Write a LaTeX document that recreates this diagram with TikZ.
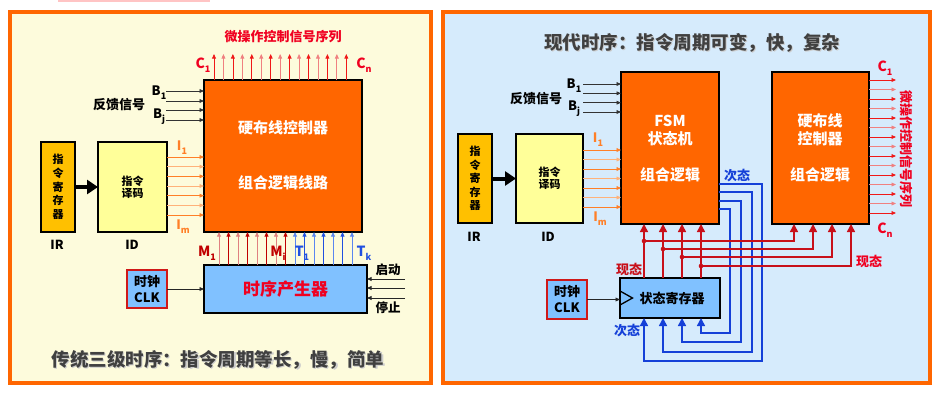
\documentclass[tikz,border=0pt]{standalone}
\usepackage{fontspec}
\setmainfont{Noto Sans CJK SC}
\usetikzlibrary{arrows.meta,calc}
\definecolor{panelO}{HTML}{FF6600}
\definecolor{bgL}{HTML}{FDFBDC}
\definecolor{bgR}{HTML}{D6EBFC}
\definecolor{boxO}{HTML}{FF6600}
\definecolor{irY}{HTML}{FFC000}
\definecolor{idY}{HTML}{FFFF99}
\definecolor{ltB}{HTML}{80C1FF}
\definecolor{txtR}{HTML}{F00020}
\definecolor{cRed}{HTML}{F01818}
\definecolor{cPink}{HTML}{F08080}
\definecolor{mRed}{HTML}{C00000}
\definecolor{mPink}{HTML}{E08080}
\definecolor{tBlue}{HTML}{2050E0}
\definecolor{tBlueL}{HTML}{5A86F0}
\definecolor{iOr}{HTML}{FF7F27}
\definecolor{iOrL}{HTML}{FFB27A}
\definecolor{dRed}{HTML}{C8101A}
\definecolor{dBlue}{HTML}{1540D8}
\definecolor{gTxt}{HTML}{404040}
\definecolor{pinkBar}{HTML}{FFC4C4}
\definecolor{clkRed}{HTML}{D01818}
\newcommand{\lsub}[1]{\raisebox{-0.55ex}{\fontsize{9}{9}\selectfont #1}}
\newcommand{\fz}[1]{\fontsize{#1}{#1}\selectfont}
\begin{document}
\begin{tikzpicture}[x=1pt,y=-1pt,
  box/.style={draw=black,line width=1.8pt,anchor=north west,inner sep=0pt,outer sep=0pt,align=center},
  lbl/.style={font=\bfseries\fz{13},inner sep=0pt},
  sarrow/.style={line width=0.8pt,-{Triangle[length=4.5pt,width=3.8pt]}},
  barrow/.style={line width=1.5pt,-{Triangle[length=8pt,width=8pt]}},
  thick arrow/.style={line width=4pt,-{Triangle[length=11pt,width=14pt]}},
]
\useasboundingbox (0,0) rectangle (943,402);
\fill[pinkBar] (58,0) rectangle (210,1.5);

% ================= LEFT PANEL =================
\draw[panelO,line width=4pt,fill=bgL] (9.5,12) rectangle (430.5,383);
\node[lbl,text=txtR] (ttlL) at (283,37) {微操作控制信号序列};
\node[box,fill=boxO,minimum width=158pt,minimum height=152pt] (mainL) at (204,80) {};
\node[font=\bfseries\fz{15},text=white] (mainLa) at (283,128) {硬布线控制器};
\node[font=\bfseries\fz{15},text=white] (mainLb) at (283,183) {组合逻辑线路};
\foreach \i in {0,...,14}{
  \ifodd\i\def\cc{cPink}\else\def\cc{cRed}\fi
  \draw[sarrow,color=\cc] ($(mainL.north west)+({10+\i*9.45},0)$) -- ++(0,-26);
}
\node[lbl,font=\bfseries\fz{14},text=txtR] (c1L) at (203,65) {C\lsub{1}};
\node[lbl,font=\bfseries\fz{14},text=txtR] (cnL) at (364,65) {C\lsub{n}};

% feedback
\foreach \y [count=\k] in {91,101,110,120}{
  \coordinate (bL\k) at (166,\y);
  \draw[sarrow,color=black!80] (bL\k) -- (mainL.west |- bL\k);
}
\node[lbl] (b1L) at (159,93) {B\lsub{1}};
\node[lbl] (bjL) at (159,117) {B\lsub{j}};
\node[lbl] (fbL) at (119,105) {反馈信号};

% IR / ID
\node[box,fill=irY,minimum width=34pt,minimum height=90pt,font=\bfseries\fontsize{11}{13.7}\selectfont] (irL) at (41,142) {指\\令\\寄\\存\\器};
\node[box,fill=idY,minimum width=69pt,minimum height=90pt,font=\bfseries\fontsize{11}{12.5}\selectfont] (idL) at (98,142) {指令\\译码};
\draw[thick arrow] (irL.east) -- (idL.west);
\node[lbl,font=\bfseries\fz{12.5}] (irLl) at (57,245) {IR};
\node[lbl,font=\bfseries\fz{12.5}] (idLl) at (132,245) {ID};
\foreach \i in {0,...,6}{
  \ifodd\i\def\cc{iOrL}\else\def\cc{iOr}\fi
  \coordinate (iL\i) at ($(idL.north east)+(0,{15+\i*9.67})$);
  \draw[sarrow,color=\cc] (iL\i) -- (mainL.west |- iL\i);
}
\node[lbl,text=iOr] (i1L) at (182,148) {I\lsub{1}};
\node[lbl,text=iOr] (imL) at (183,227) {I\lsub{m}};

% timing generator
\node[box,fill=ltB,minimum width=163pt,minimum height=48pt,text=txtR,font=\bfseries\fz{17}] (tgL) at (204,265) {时序产生器};
\foreach \i in {0,...,14}{
  \ifnum\i<8
    \ifodd\i\def\cc{mRed}\else\def\cc{mPink}\fi
  \else
    \ifodd\i\def\cc{tBlue}\else\def\cc{tBlueL}\fi
  \fi
  \draw[sarrow,color=\cc] ($(tgL.north west)+({15+\i*9.5},0)$) -- ($(mainL.south west)+({15+\i*9.5},0)$);
}
\node[lbl,font=\bfseries\fz{14},text=mRed] (m1L) at (207,253) {M\lsub{1}};
\node[lbl,font=\bfseries\fz{14},text=mRed] (miL) at (278,253) {M\lsub{i}};
\node[lbl,font=\bfseries\fz{14},text=tBlue] (t1L) at (302,253) {T\lsub{1}};
\node[lbl,font=\bfseries\fz{14},text=tBlue] (tkL) at (364,253) {T\lsub{k}};

\node[box,draw=clkRed,line width=1.2pt,fill=ltB,minimum width=40pt,minimum height=38pt,font=\bfseries\fontsize{13}{16}\selectfont] (clkL) at (127,270) {时钟\\CLK};
\draw[sarrow,color=black!85] (clkL.east) -- (clkL.east -| tgL.west);
\foreach \y [count=\k] in {279,288,298}{
  \coordinate (ssL\k) at (405,\y);
  \draw[sarrow,color=black!85] (ssL\k) -- (tgL.east |- ssL\k);
}
\node[lbl,font=\bfseries\fz{12.5}] (qdL) at (388,270) {启动};
\node[lbl,font=\bfseries\fz{12.5}] (tzL) at (388,308) {停止};

\node[lbl,font=\bfseries\fz{18.5},text=black!20] (btmLs) at (219,361) {传统三级时序：指令周期等长，慢，简单};
\node[lbl,font=\bfseries\fz{18.5},text=gTxt] (btmL) at (218,360) {传统三级时序：指令周期等长，慢，简单};

% ================= RIGHT PANEL =================
\draw[panelO,line width=4pt,fill=bgR] (443,12) rectangle (930,383);
\node[lbl,font=\bfseries\fz{18.5},text=black!20] (ttlRs) at (693,44) {现代时序：指令周期可变，快，复杂};
\node[lbl,font=\bfseries\fz{18.5},text=gTxt] (ttlR) at (692,43) {现代时序：指令周期可变，快，复杂};

\node[box,fill=boxO,minimum width=98pt,minimum height=152pt] (fsmR) at (621,72) {};
\node[font=\bfseries\fz{15},text=white] (fsmRa) at (670,121) {FSM};
\node[font=\bfseries\fz{15},text=white] (fsmRb) at (670,139) {状态机};
\node[font=\bfseries\fz{15},text=white] (fsmRc) at (670,175) {组合逻辑};
\node[box,fill=boxO,minimum width=97pt,minimum height=152pt] (hwR) at (772,72) {};
\node[font=\bfseries\fz{15},text=white] (hwRa) at (820,121) {硬布线};
\node[font=\bfseries\fz{15},text=white] (hwRb) at (820,139) {控制器};
\node[font=\bfseries\fz{15},text=white] (hwRc) at (820,175) {组合逻辑};

\foreach \y [count=\k] in {84,93.3,102.7,112}{
  \coordinate (bR\k) at (583,\y);
  \draw[sarrow,color=black!80] (bR\k) -- (fsmR.west |- bR\k);
}
\node[lbl] (b1R) at (574,86) {B\lsub{1}};
\node[lbl] (bjR) at (574,109) {B\lsub{j}};
\node[lbl] (fbR) at (536,99) {反馈信号};

\node[box,fill=irY,minimum width=34pt,minimum height=89pt,font=\bfseries\fontsize{11}{13.5}\selectfont] (irR) at (458,134) {指\\令\\寄\\存\\器};
\node[box,fill=idY,minimum width=67pt,minimum height=89pt,font=\bfseries\fontsize{11}{12.5}\selectfont] (idR) at (516,134) {指令\\译码};
\draw[thick arrow] (irR.east) -- (idR.west);
\node[lbl,font=\bfseries\fz{12.5}] (irRl) at (474,237) {IR};
\node[lbl,font=\bfseries\fz{12.5}] (idRl) at (548,237) {ID};
\foreach \i in {0,...,6}{
  \ifodd\i\def\cc{iOrL}\else\def\cc{iOr}\fi
  \coordinate (iR\i) at ($(idR.north east)+(0,{16+\i*9.5})$);
  \draw[sarrow,color=\cc] (iR\i) -- (fsmR.west |- iR\i);
}
\node[lbl,text=iOr] (i1R) at (598,140) {I\lsub{1}};
\node[lbl,text=iOr] (imR) at (600,219) {I\lsub{m}};

\foreach \i in {0,...,14}{
  \ifodd\i\def\cc{cPink}\else\def\cc{cRed}\fi
  \draw[sarrow,color=\cc] ($(hwR.north east)+(0,{8+\i*9.5})$) -- ++(27,0);
}
\node[lbl,font=\bfseries\fz{14},text=txtR] (c1R) at (885,68) {C\lsub{1}};
\node[lbl,font=\bfseries\fz{14},text=txtR] (cnR) at (885,230) {C\lsub{n}};
\node[lbl,rotate=-90,text=txtR] (vtR) at (906,149) {微操作控制信号序列};

% state register
\node[box,fill=ltB,minimum width=100pt,minimum height=40pt,font=\bfseries\fz{13}] (srR) at (620,278) {\hspace*{4pt}状态寄存器};
\draw[line width=1.3pt] ($(srR.west)+(0,-7)$) -- ++(12.5,7) -- ++(-12.5,7);
\node[box,draw=clkRed,line width=1.2pt,fill=ltB,minimum width=40pt,minimum height=39pt,font=\bfseries\fontsize{13}{16}\selectfont] (clkR) at (547,280) {时钟\\CLK};
\draw[sarrow,color=black!85] (clkR.east) -- (clkR.east -| srR.west);

% next-state (blue)
\foreach \dy/\bx/\by/\dx [count=\k] in {112/762/361/24, 120/752/352/43, 129/741/342/62, 137/730/333/81}{
  \coordinate (bt\k) at (\bx,\by);
  \coordinate (be\k) at ($(srR.south west)+(\dx,0)$);
  \draw[barrow,dBlue] ($(fsmR.north east)+(0,\dy)$) -| (bt\k) -| (be\k);
}
% present-state (red)
\foreach \dx/\hx/\yy [count=\k] in {24/22/241, 43/41/249, 62/60/257, 81/79/266}{
  \coordinate (rs\k) at ($(srR.north west)+(\dx,0)$);
  \draw[barrow,dRed] (rs\k) -- (rs\k |- fsmR.south);
  \coordinate (rj\k) at (620+\dx,\yy);
  \coordinate (rh\k) at ($(hwR.south west)+(\hx,0)$);
  \draw[barrow,dRed] (rj\k) -| (rh\k);
  \fill[dRed] (rj\k) circle (2.3);
}
\node[lbl,text=dBlue] (ntR1) at (737,176) {次态};
\node[lbl,text=dBlue] (ntR2) at (627,331) {次态};
\node[lbl,text=dRed] (psR1) at (629,269) {现态};
\node[lbl,text=txtR] (psR2) at (869,261) {现态};
\end{tikzpicture}
\end{document}
